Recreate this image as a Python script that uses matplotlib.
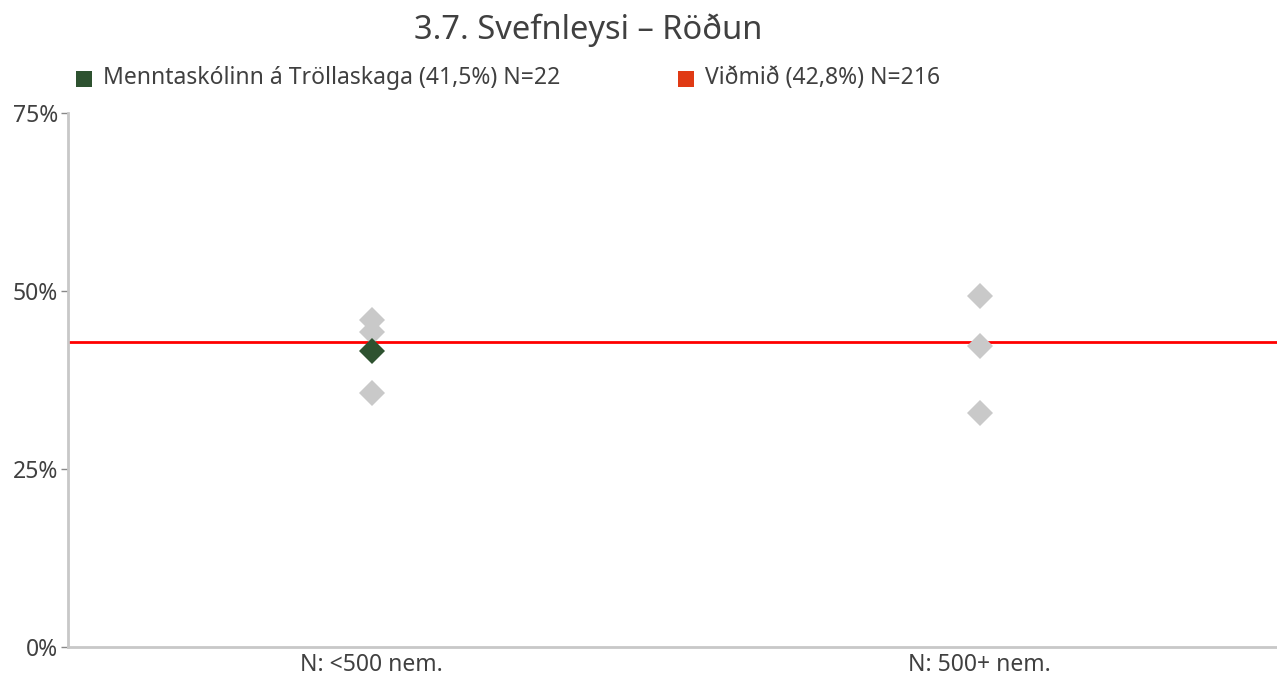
import matplotlib
matplotlib.use("Agg")
import matplotlib.pyplot as plt
from matplotlib.patches import Rectangle
from matplotlib.ticker import PercentFormatter

plt.rcParams['font.family'] = ['Noto Sans', 'DejaVu Sans']

# chart values
title = "3.7. Svefnleysi – Röðun"
categories = ["N: <500 nem.", "N: 500+ nem."]
others_small = [45.9, 44.2, 35.7]      # other schools, <500
others_large = [49.3, 42.3, 32.9]      # other schools, 500+
school_name = "Menntaskólinn á Tröllaskaga"
school_value = 41.5
school_n = 22
school_cat = 0
benchmark_value = 42.8
benchmark_n = 216
yticks = [0, 25, 50, 75]

grey = "#C9C9C9"
green = "#2E5230"
red = "#FF0000"
legend_red = "#E03A14"
text_col = "#404040"

W, H = 1277, 677
fig = plt.figure(figsize=(W / 100, H / 100), dpi=100)
ax = fig.add_axes([0.0532, 0.0443, 0.952, 0.789])

# other schools
ax.plot([0] * len(others_small), others_small, linestyle="none", marker="D",
        ms=13.2, color=grey, mew=0, zorder=3)
ax.plot([1] * len(others_large), others_large, linestyle="none", marker="D",
        ms=13.2, color=grey, mew=0, zorder=3)
# benchmark line
ax.axhline(benchmark_value, color=red, lw=2, zorder=2)
# the school itself
ax.plot([school_cat], [school_value], linestyle="none", marker="D",
        ms=13.2, color=green, mew=0, zorder=4)

ax.set_xlim(-0.5, 1.5)
ax.set_ylim(0, 75)
ax.set_xticks([0, 1])
ax.set_xticklabels(categories, fontsize=16.5, color=text_col)
ax.set_yticks(yticks)
ax.yaxis.set_major_formatter(PercentFormatter(decimals=0))
ax.tick_params(axis="y", labelsize=16.5, labelcolor=text_col, color="#888888",
               length=5, width=1, pad=2)
ax.tick_params(axis="x", length=0, pad=4)

for side in ["top", "right"]:
    ax.spines[side].set_visible(False)
for side in ["left", "bottom"]:
    ax.spines[side].set_color("#C8C8C8")
    ax.spines[side].set_linewidth(2)

fig.text(588 / W, 1 - 30 / H, title, ha="center", va="center", fontsize=23.5,
         color=text_col)

# legend row
legend_items = [
    (76, green, f"{school_name} ({school_value:.1f}%) N={school_n}"),
    (678, legend_red, f"Viðmið ({benchmark_value:.1f}%) N={benchmark_n}"),
]
for x0, col, label in legend_items:
    fig.patches.append(Rectangle((x0 / W, 1 - 87 / H), 16 / W, 16 / H,
                                 transform=fig.transFigure, color=col, lw=0))
    fig.text((x0 + 27) / W, 1 - 78 / H, label.replace(".", ","),
             fontsize=16.5, color=text_col, ha="left", va="center")

fig.savefig("out.png", dpi=100)
